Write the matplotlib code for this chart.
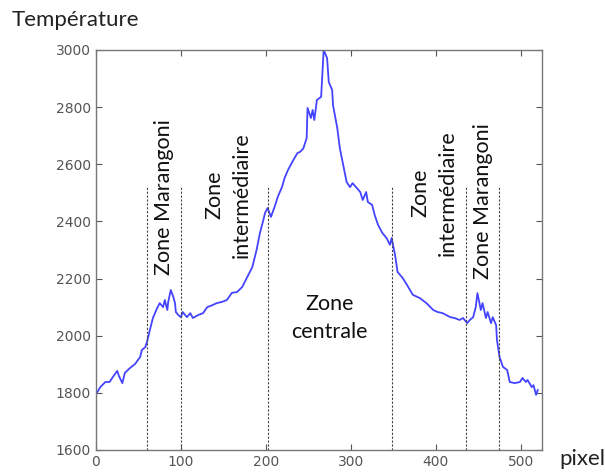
import matplotlib
matplotlib.use("Agg")
import matplotlib.pyplot as plt

# temperature profile (pixel, temperature)
pixel = [1, 5, 11, 16, 20, 25, 27, 31, 34, 40, 46, 52, 54, 58, 60, 64, 67, 72, 75, 79,
         81, 84, 85, 88, 91, 93, 94, 97, 100, 102, 107, 111, 114, 120, 126,
         131, 137, 142, 148, 154, 160, 166, 172, 178, 184, 189, 193, 197, 199, 202,
         206, 211, 214, 219, 222, 226, 231, 237, 240, 244, 248, 249, 253, 255, 257,
         260, 265, 267, 268, 272, 274, 278, 279, 284, 287, 291, 295, 299, 302, 307,
         311, 314, 318, 320, 325, 328, 332, 337, 342, 346, 348, 352, 355, 361,
         366, 373, 381, 389, 397, 402, 408, 417, 422, 428, 432, 437, 440, 444, 447,
         449, 453, 455, 459, 461, 465, 467, 471, 472, 475, 479, 484, 487, 493, 499,
         502, 506, 508, 513, 515, 518, 520]
temperature = [1800, 1820, 1838, 1838, 1856, 1877, 1859, 1834, 1870, 1887, 1901, 1926, 1950, 1960, 1978, 2027, 2062, 2097, 2114, 2100,
               2125, 2090, 2118, 2160, 2136, 2114, 2083, 2072, 2065, 2083, 2065, 2079, 2062, 2072, 2079,
               2100, 2107, 2114, 2118, 2125, 2150, 2153, 2170, 2205, 2240, 2300, 2360, 2405, 2430, 2447,
               2416, 2458, 2486, 2521, 2552, 2580, 2608, 2639, 2643, 2655, 2692, 2797, 2762, 2790, 2755,
               2825, 2836, 2947, 3000, 2972, 2888, 2860, 2807, 2727, 2657, 2597, 2538, 2520, 2534, 2517,
               2503, 2475, 2503, 2468, 2458, 2423, 2388, 2360, 2342, 2318, 2342, 2283, 2223, 2202,
               2178, 2143, 2132, 2114, 2090, 2083, 2079, 2065, 2062, 2055, 2062, 2044, 2055, 2065, 2100,
               2149, 2090, 2114, 2062, 2083, 2044, 2065, 2037, 1985, 1926, 1891, 1880, 1838, 1834, 1838,
               1852, 1838, 1845, 1820, 1827, 1793, 1810]

# zone boundaries
bounds = [60, 100, 202, 348, 436, 474]
bound_top = 2520

zone_labels = ["Zone Marangoni", "Zone\nintermédiaire", "Zone\ncentrale",
               "Zone\nintermédiaire", "Zone Marangoni"]
zone_x = [80, 155, 275, 398, 455]
zone_y = [2486, 2492, 2062, 2500, 2470]
zone_rot = [90, 90, 0, 90, 90]

fig = plt.figure(figsize=(6.05, 4.75), dpi=100)
ax = fig.add_axes([96 / 605, 25 / 475, 446 / 605, 400 / 475])

ax.plot(pixel, temperature, color='#4444ff', lw=1.3)

for b in bounds:
    ax.plot([b, b], [1600, bound_top], color='#444444', lw=0.8, linestyle=(0, (2, 1.5)))

for lab, x, y, r in zip(zone_labels, zone_x, zone_y, zone_rot):
    ax.text(x, y, lab, rotation=r, ha='center', va='center', fontsize=15.5,
            family='Lato', color='#111111', linespacing=1.45)

ax.set_xlim(0, 525)
ax.set_ylim(1600, 3000)
ax.set_xticks([0, 100, 200, 300, 400, 500])
ax.set_yticks(range(1600, 3001, 200))
ax.tick_params(direction='in', top=True, right=True, labelsize=10,
               colors='#555555', length=4, width=0.8)
for s in ax.spines.values():
    s.set_color('#777777')
    s.set_linewidth(1.0)

fig.text(12 / 605, 1 - 20 / 475, "Température", fontsize=16, family='Lato',
         ha='left', va='center', color='#222222')
fig.text(559 / 605, 1 - 459 / 475, "pixel", fontsize=16, family='Lato',
         ha='left', va='center', color='#222222')

fig.savefig('out.png', dpi=100)
